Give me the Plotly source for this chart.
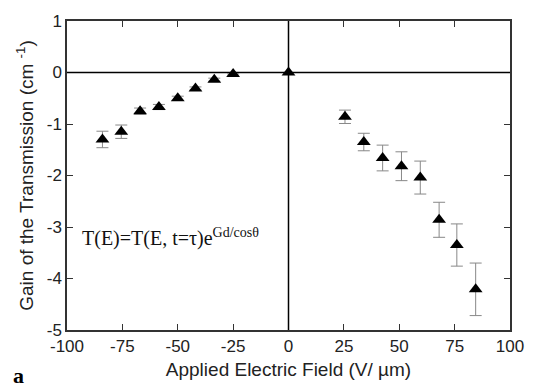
import plotly.graph_objects as go

field = [-84, -75.5, -67, -58.5, -50, -42, -33.5, -25, 0, 25.5, 34, 42.5, 51, 59.5, 68, 76, 84.5]
gain = [-1.30, -1.15, -0.75, -0.67, -0.50, -0.31, -0.14, -0.03, 0.0, -0.86, -1.35, -1.66, -1.82, -2.04, -2.86, -3.35, -4.21]
err = [0.16, 0.13, 0.06, 0.05, 0.04, 0.03, 0.03, 0.02, 0.0, 0.13, 0.17, 0.25, 0.28, 0.32, 0.34, 0.41, 0.51]

x_ticks = [-100, -75, -50, -25, 0, 25, 50, 75, 100]
y_ticks = [1, 0, -1, -2, -3, -4, -5]

fig = go.Figure()
fig.add_trace(go.Scatter(
    x=field, y=gain, mode="markers",
    marker=dict(symbol="triangle-up", size=12, color="black"),
    error_y=dict(type="data", array=err, visible=True, color="#888888", thickness=1, width=6),
    showlegend=False,
))

fig.add_hline(y=0, line=dict(color="black", width=1.5))
fig.add_vline(x=0, line=dict(color="black", width=1.5))

sans = "Liberation Sans, Arial"
axis_common = dict(showgrid=False, zeroline=False, showline=True, linecolor="#333333", linewidth=1.5,
                   mirror="ticks", ticks="inside", ticklen=6, tickcolor="#333333",
                   tickfont=dict(family=sans, size=17, color="#222222"))

fig.update_xaxes(range=[-100, 100], tickvals=x_ticks, ticktext=[str(v) for v in x_ticks],
                 title=dict(text="Applied Electric Field (V/ µm)", font=dict(family=sans, size=19, color="#222222"), standoff=8),
                 **axis_common)
fig.update_yaxes(range=[-5, 1], tickvals=y_ticks, ticktext=[str(v) for v in y_ticks],
                 title=dict(text="Gain of the Transmission (cm <sup>-1</sup>)", font=dict(family=sans, size=19, color="#222222"), standoff=8),
                 **axis_common)

fig.add_annotation(x=-94, y=-3.2, xref="x", yref="y", xanchor="left", yanchor="middle", showarrow=False,
                   text="T(E)=T(E, t=τ)e<sup>Gd/cosθ</sup>",
                   font=dict(family="Liberation Serif, Times New Roman", size=20, color="#111111"))
fig.add_annotation(x=0.0, y=0.0, xref="paper", yref="paper", xanchor="center", yanchor="middle",
                   xshift=-49, yshift=-45, showarrow=False, text="<b>a</b>",
                   font=dict(family="Liberation Serif, Times New Roman", size=22, color="black"))

fig.update_layout(width=536, height=390, margin=dict(l=67, r=16, t=15, b=60),
                  paper_bgcolor="white", plot_bgcolor="white")

fig.write_html("out.html", config={"displayModeBar": False},
               post_script="document.body.style.margin='0';document.body.style.padding='0';")
